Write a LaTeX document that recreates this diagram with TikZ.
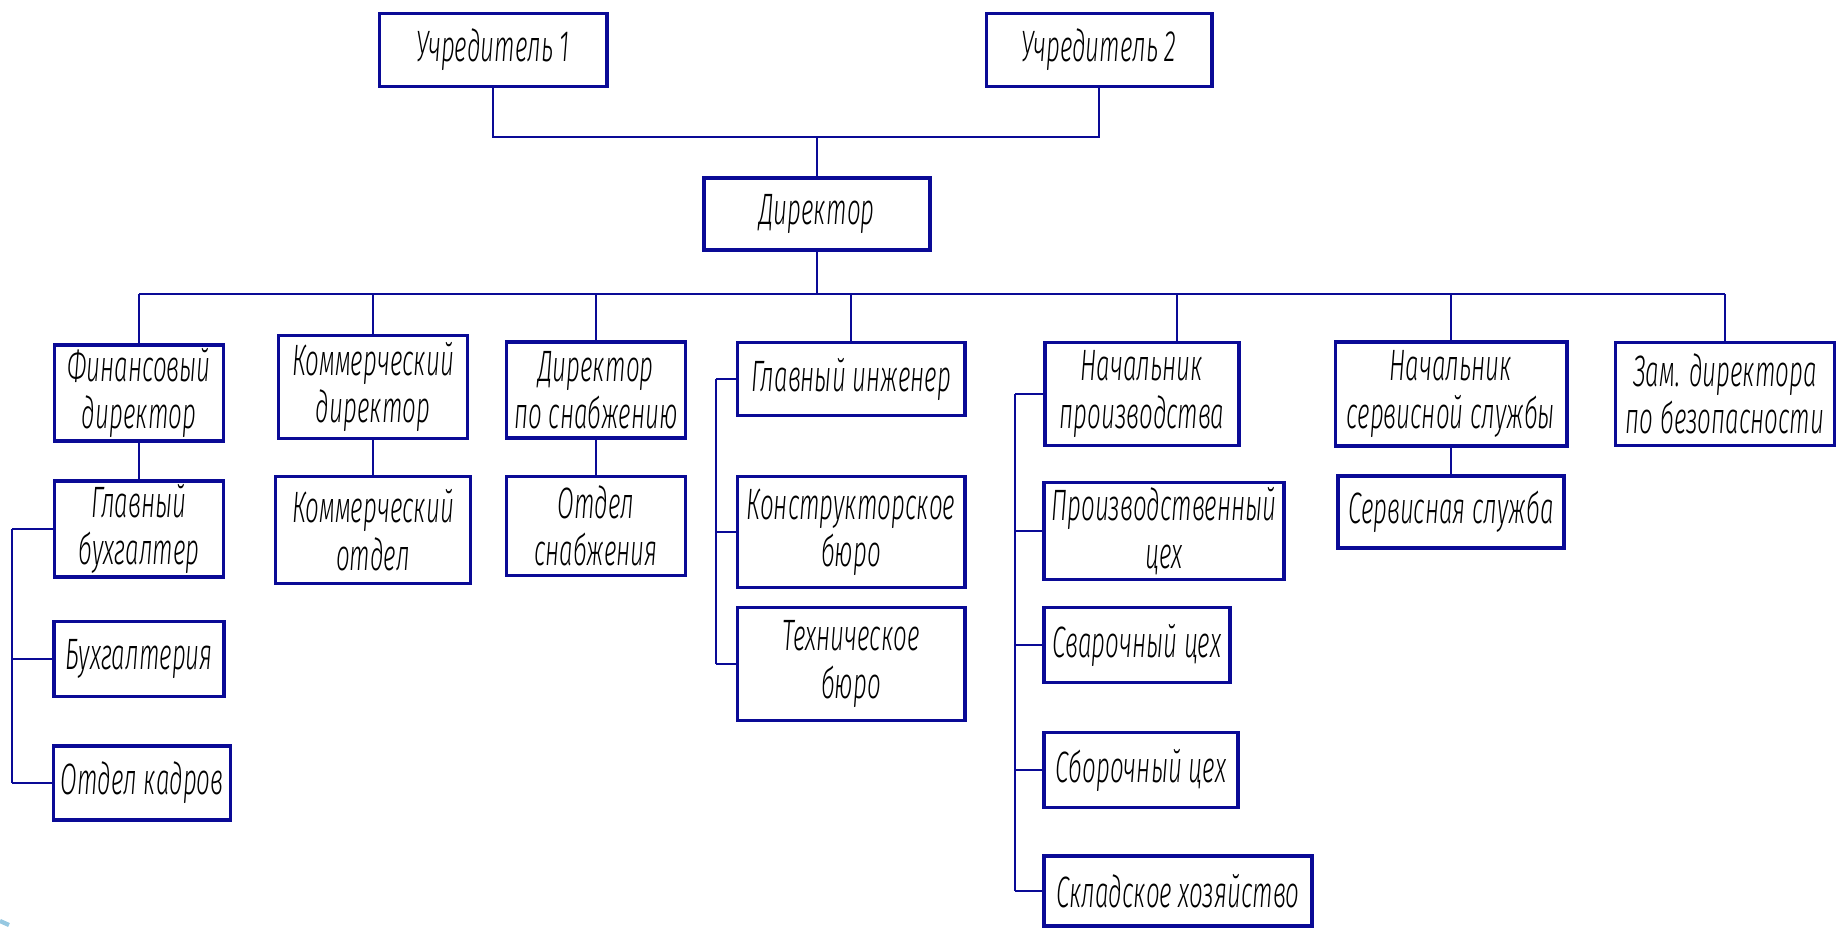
\documentclass[tikz,border=0pt]{standalone}
\usepackage{fontspec}
\setmainfont{Fira Sans}[UprightFont={* Light Italic}, FakeStretch=0.55]
\usetikzlibrary{positioning}
\definecolor{linec}{RGB}{10,10,150}
\definecolor{bulletc}{RGB}{150,200,225}

\begin{document}
\begin{tikzpicture}[x=0.01cm, y=-0.01cm, font=\fontsize{12.5}{13.5}\selectfont]
            \tikzstyle{box}=[draw=linec, line width=1.1pt, fill=white, align=center, inner sep=1pt]
            \tikzstyle{line}=[draw=linec, line width=0.75pt]
            \useasboundingbox (0,0) rectangle (1836,928);

            % founders and director
            \node[box, minimum width=2.27cm, minimum height=0.73cm] (u1)  at (493,50)   {Учредитель 1};
            \node[box, minimum width=2.25cm, minimum height=0.73cm] (u2)  at (1099,50)  {Учредитель 2};
            \node[box, minimum width=2.26cm, minimum height=0.72cm] (dir) at (817,214)  {Директор};

            % first row
            \node[box, minimum width=1.69cm, minimum height=0.90cm] (fd)  at (139,393)  {Финансовый\\директор};
            \node[box, minimum width=1.89cm, minimum height=1.03cm] (kd)  at (373,387)  {Коммерческий\\директор};
            \node[box, minimum width=1.79cm, minimum height=0.96cm] (ds)  at (596,390)  {Директор\\по снабжению};
            \node[box, minimum width=2.27cm, minimum height=0.73cm] (gi)  at (851,379)  {Главный инженер};
            \node[box, minimum width=1.94cm, minimum height=1.03cm] (np)  at (1142,394) {Начальник\\производства};
            \node[box, minimum width=2.31cm, minimum height=1.04cm] (ns)  at (1451,394) {Начальник\\сервисной службы};
            \node[box, minimum width=2.19cm, minimum height=1.03cm] (zd)  at (1725,394) {Зам. директора\\по безопасности};

            % departments
            \node[box, minimum width=1.69cm, minimum height=0.93cm] (gb)  at (139,529)  {Главный\\бухгалтер};
            \node[box, minimum width=1.70cm, minimum height=0.75cm] (bu)  at (139,659)  {Бухгалтерия};
            \node[box, minimum width=1.77cm, minimum height=0.74cm] (ok)  at (142,783)  {Отдел кадров};
            \node[box, minimum width=1.95cm, minimum height=1.07cm] (ko)  at (373,530)  {Коммерческий\\отдел};
            \node[box, minimum width=1.79cm, minimum height=0.99cm] (os)  at (596,526)  {Отдел\\снабжения};
            \node[box, minimum width=2.27cm, minimum height=1.11cm] (kb)  at (851,532)  {Конструкторское\\бюро};
            \node[box, minimum width=2.27cm, minimum height=1.13cm] (tb)  at (851,664)  {Техническое\\бюро};
            \node[box, minimum width=2.40cm, minimum height=0.97cm] (pc)  at (1164,531) {Производственный\\цех};
            \node[box, minimum width=1.86cm, minimum height=0.75cm] (svc) at (1137,645) {Сварочный цех};
            \node[box, minimum width=1.94cm, minimum height=0.75cm] (sbc) at (1141,770) {Сборочный цех};
            \node[box, minimum width=2.68cm, minimum height=0.70cm] (sh)  at (1178,891) {Складское хозяйство};
            \node[box, minimum width=2.26cm, minimum height=0.72cm] (ss)  at (1451,512) {Сервисная служба};

            \coordinate (join) at (817,137);
            \coordinate (bus)  at (817,294);
            \coordinate (npd)  at (1177,0);
            \coordinate (lf)   at (12,0);
            \coordinate (gl)   at (716,0);
            \coordinate (pl)   at (1015,0);

            \path[line] (u1.south) |- (join) -| (u2.south);
            \path[line] (join) -- (dir.north);
            \path[line] (dir.south) -- (bus);
            \path[line] (fd.north |- bus) -- (zd.north |- bus);
            \foreach \n in {fd,kd,ds,gi,ns,zd}
                \path[line] (\n.north) -- (\n.north |- bus);
            \path[line] (npd |- bus) -- (npd |- np.north);

            \path[line] (fd.south) -- (gb.north);
            \path[line] (kd.south) -- (ko.north);
            \path[line] (ds.south) -- (os.north);
            \path[line] (ns.south) -- (ss.north);

            \path[line] (gb.west -| lf) -- (ok.west -| lf);
            \foreach \n in {gb,bu,ok}
                \path[line] (\n.west) -- (\n.west -| lf);
            \path[line] (gi.west -| gl) -- (tb.west -| gl);
            \foreach \n in {gi,kb,tb}
                \path[line] (\n.west) -- (\n.west -| gl);
            \path[line] (np.west -| pl) -- (sh.west -| pl);
            \foreach \n in {np,pc,svc,sbc,sh}
                \path[line] (\n.west) -- (\n.west -| pl);

            \draw[bulletc, line width=1.2pt] (0,921) -- (9,925);
        \end{tikzpicture}
\end{document}
